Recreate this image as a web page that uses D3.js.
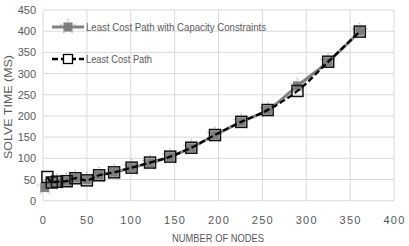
<!DOCTYPE html>
<html>
<head>
<meta charset="utf-8">
<script src="https://d3js.org/d3.v7.min.js"></script>
<style>
  body { margin: 0; background: #fff; }
  text { font-family: "Liberation Sans", Arial, sans-serif; fill: #595959; }
</style>
</head>
<body>
<div id="chart"></div>
<script>
// data
const seriesNames = ['Least Cost Path with Capacity Constraints', 'Least Cost Path']
const capNodes = [2, 10, 16, 27, 37, 50, 64, 81, 101, 122, 145, 169, 196, 226, 256, 290, 325, 361]
const capTimes = [31, 43, 44, 46, 53, 49, 60, 67, 78, 89, 104, 125, 155, 186, 214, 271, 328, 400]
const lcpNodes = [5, 10, 16, 27, 37, 50, 64, 81, 101, 122, 145, 169, 196, 226, 256, 290, 325, 361]
const lcpTimes = [56, 43, 45, 46, 53, 48, 60, 67, 78, 90, 104, 125, 155, 186, 214, 259, 328, 399]
const xTicks = [0, 50, 100, 150, 200, 250, 300, 350, 400]
const yTicks = [0, 50, 100, 150, 200, 250, 300, 350, 400, 450]

let width = 409, height = 246

let svg = d3.select('#chart').append('svg')
    .attr('width', width)
    .attr('height', height)

let xScale = d3.scaleLinear().domain([0, 400]).range([43, 394])
let yScale = d3.scaleLinear().domain([0, 450]).range([200.7, 10])

// gridlines
svg.append('g').selectAll('line.h')
    .data(yTicks)
    .enter().append('line')
    .attr('x1', xScale(0)).attr('x2', xScale(400))
    .attr('y1', d => yScale(d)).attr('y2', d => yScale(d))
    .attr('stroke', '#d9d9d9').attr('stroke-width', 1)

svg.append('g').selectAll('line.v')
    .data(xTicks)
    .enter().append('line')
    .attr('y1', yScale(0)).attr('y2', yScale(450))
    .attr('x1', d => xScale(d)).attr('x2', d => xScale(d))
    .attr('stroke', '#d9d9d9').attr('stroke-width', 1)

// axes, labels only
let xAxis = svg.append('g')
    .attr('transform', 'translate(0,' + yScale(0) + ')')
    .call(d3.axisBottom(xScale).tickValues(xTicks).tickSize(0).tickPadding(16))
xAxis.selectAll('text').style('font-size', '11px').style('letter-spacing', '1.3px').attr('fill', '#595959')

let yAxis = svg.append('g')
    .attr('transform', 'translate(' + xScale(0) + ',0)')
    .call(d3.axisLeft(yScale).tickValues(yTicks).tickSize(0).tickPadding(7))
yAxis.selectAll('text').style('font-size', '11px').attr('fill', '#595959')

svg.selectAll('.domain').remove()

svg.append('text')
    .attr('x', 218).attr('y', 242)
    .attr('text-anchor', 'middle')
    .attr('font-size', 11)
    .attr('textLength', 92).attr('lengthAdjust', 'spacingAndGlyphs')
    .text('NUMBER OF NODES')

svg.append('text')
    .attr('transform', 'translate(12,107) rotate(-90)')
    .attr('text-anchor', 'middle')
    .attr('font-size', 11)
    .attr('textLength', 104).attr('lengthAdjust', 'spacingAndGlyphs')
    .text('SOLVE TIME (MS)')

let capData = capNodes.map((n, i) => ({ x: n, y: capTimes[i] }))
let lcpData = lcpNodes.map((n, i) => ({ x: n, y: lcpTimes[i] }))

let line = d3.line()
    .curve(d3.curveCatmullRom)
    .x(d => xScale(d.x))
    .y(d => yScale(d.y))

function starMarker(g, cx, cy){
    g.append('rect')
        .attr('x', cx - 4.5).attr('y', cy - 4.5)
        .attr('width', 9).attr('height', 9)
        .attr('fill', '#7a7a7a')
    g.append('path')
        .attr('d', d3.symbol().type(d3.symbolStar).size(80)())
        .attr('transform', 'translate(' + cx + ',' + cy + ')')
        .attr('fill', 'none')
        .attr('stroke', '#a6a6a6')
        .attr('stroke-width', 0.8)
        .attr('stroke-dasharray', '1,1')
}

function squareMarker(g, cx, cy){
    g.append('rect')
        .attr('x', cx - 5.5).attr('y', cy - 5.5)
        .attr('width', 11).attr('height', 11)
        .attr('fill', 'none')
        .attr('stroke', '#111')
        .attr('stroke-width', 1.5)
}

// gray series
svg.append('path')
    .datum(capData)
    .attr('d', line)
    .attr('fill', 'none')
    .attr('stroke', '#808080')
    .attr('stroke-width', 3)

let capMarks = svg.append('g')
capData.forEach(function(d){
    starMarker(capMarks, xScale(d.x), yScale(d.y))
})

// black dashed series
svg.append('path')
    .datum(lcpData)
    .attr('d', line)
    .attr('fill', 'none')
    .attr('stroke', '#000')
    .attr('stroke-width', 2.3)
    .attr('stroke-dasharray', '6,3')

let lcpMarks = svg.append('g')
lcpData.forEach(function(d){
    squareMarker(lcpMarks, xScale(d.x), yScale(d.y))
})

// legend
let legend = svg.append('g')

legend.append('line')
    .attr('x1', 52).attr('x2', 84).attr('y1', 27).attr('y2', 27)
    .attr('stroke', '#808080').attr('stroke-width', 3)
starMarker(legend, 68, 27)
legend.append('text')
    .attr('x', 86).attr('y', 31)
    .attr('font-size', 11.5)
    .attr('textLength', 180).attr('lengthAdjust', 'spacingAndGlyphs')
    .text(seriesNames[0])

legend.append('line')
    .attr('x1', 52).attr('x2', 84).attr('y1', 59).attr('y2', 59)
    .attr('stroke', '#000').attr('stroke-width', 2.3)
    .attr('stroke-dasharray', '6,3')
legend.append('rect')
    .attr('x', 63.5).attr('y', 54.5).attr('width', 9).attr('height', 9)
    .attr('fill', '#fff').attr('stroke', '#000').attr('stroke-width', 1.3)
legend.append('text')
    .attr('x', 86).attr('y', 63)
    .attr('font-size', 11.5)
    .attr('textLength', 66).attr('lengthAdjust', 'spacingAndGlyphs')
    .text(seriesNames[1])
</script>
</body>
</html>
